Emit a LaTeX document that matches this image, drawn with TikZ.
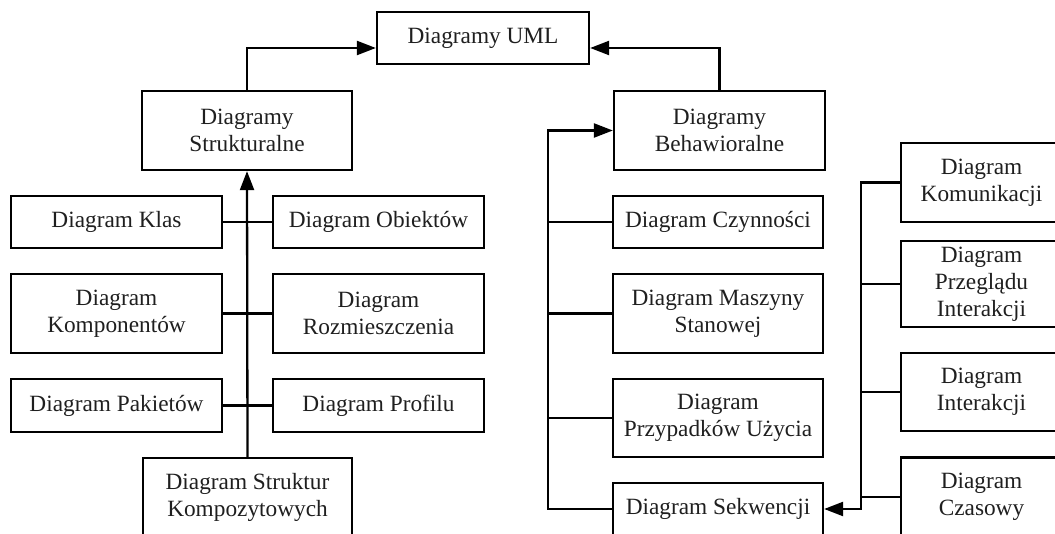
\documentclass[tikz,border=0pt]{standalone}
\usepackage{fontspec}
\setmainfont{Liberation Serif}
\usetikzlibrary{arrows.meta}
\begin{document}
\begin{tikzpicture}[x=1pt,y=-1pt,
  box/.style={draw=black, line width=2.3pt, fill=white, rectangle, inner sep=0pt,
    align=center, font=\fontsize{23.3}{27}\selectfont, text=black!88},
  link/.style={line width=2.3pt, draw=black},
  arr/.style={link, -{Triangle[length=19pt,width=14pt]}}]
\useasboundingbox (0,0) rectangle (1055,534);
\clip (0,0) rectangle (1055,534);

% top level
\node[box, minimum width=212pt, minimum height=52pt] (uml) at (483,38) {Diagramy UML};
\node[box, minimum width=210pt, minimum height=79pt] (str) at (247,130.5) {Diagramy\\Strukturalne};
\node[box, minimum width=211pt, minimum height=79pt] (beh) at (719.5,130.5) {Diagramy\\Behawioralne};

% structural diagrams
\node[box, minimum width=211pt, minimum height=52pt] (klas) at (116.5,222) {Diagram Klas};
\node[box, minimum width=211pt, minimum height=52pt] (obi) at (378.5,222) {Diagram Obiektów};
\node[box, minimum width=211pt, minimum height=79pt] (komp) at (116.5,313.5) {Diagram\\Komponentów};
\node[box, minimum width=211pt, minimum height=79pt] (rozm) at (378.5,313.5) {Diagram\\Rozmieszczenia};
\node[box, minimum width=211pt, minimum height=53pt] (pak) at (116.5,405.5) {Diagram Pakietów};
\node[box, minimum width=211pt, minimum height=53pt] (prof) at (378.5,405.5) {Diagram Profilu};
\node[box, minimum width=209pt, minimum height=78pt] (kmpz) at (247.5,497) {Diagram Struktur\\Kompozytowych};

% behavioural diagrams
\node[box, minimum width=210pt, minimum height=52pt] (czyn) at (718,222) {Diagram Czynności};
\node[box, minimum width=210pt, minimum height=79pt] (masz) at (718,313.5) {Diagram Maszyny\\Stanowej};
\node[box, minimum width=210pt, minimum height=78pt] (przyp) at (718,418) {Diagram\\Przypadków Użycia};
\node[box, minimum width=210pt, minimum height=52pt] (sek) at (718,509) {Diagram Sekwencji};

% interaction diagrams
\node[box, minimum width=161pt, minimum height=79pt] (kom) at (981.5,182.5) {Diagram\\Komunikacji};
\node[box, minimum width=161pt, minimum height=86pt] (prz) at (981.5,284) {Diagram\\Przeglądu\\Interakcji};
\node[box, minimum width=161pt, minimum height=78pt] (int) at (981.5,392) {Diagram\\Interakcji};
\node[box, minimum width=161pt, minimum height=79pt] (czas) at (981.5,497) {Diagram\\Czasowy};

% connectors to the root
\draw[arr] (str.north) |- ([yshift=-10pt]uml.west);
\draw[arr] (beh.north) |- ([yshift=-10pt]uml.east);

% structural spine
\draw[arr] (kmpz.north) -- (str.south);
\draw[link] (klas.east) -- (obi.west);
\draw[link] (komp.east) -- (rozm.west);
\draw[link] (pak.east) -- (prof.west);

% behavioural spine
\draw[arr] (sek.west) -- ++(-64,0) |- (beh.west);
\draw[link] (czyn.west) -- ++(-64,0);
\draw[link] (masz.west) -- ++(-64,0);
\draw[link] (przyp.west) -- ++(-64,0);

% interaction spine
\draw[arr] (kom.west) -- ++(-39,0) |- (sek.east);
\draw[link] (prz.west) -- ++(-39,0);
\draw[link] (int.west) -- ++(-39,0);
\draw[link] (czas.west) -- ++(-39,0);
\end{tikzpicture}
\end{document}
